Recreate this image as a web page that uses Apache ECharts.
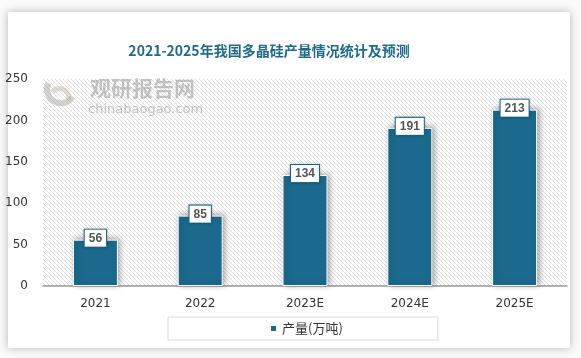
<!DOCTYPE html>
<html>
<head>
<meta charset="utf-8">
<script src="https://cdn.jsdelivr.net/npm/echarts@6/dist/echarts.min.js"></script>
<style>
html,body{margin:0;padding:0;background:#fff;}
#wrap{position:relative;width:581px;height:358px;overflow:hidden;background:#fafafa;}
#card{position:absolute;left:8px;top:12px;width:562px;height:336px;background:#fff;box-shadow:0 0 8px rgba(0,0,0,0.28);}
#chart{position:absolute;left:0;top:0;width:581px;height:358px;}
</style>
</head>
<body>
<div id="wrap"><div id="card"></div><div id="chart"></div></div>
<script>
var titleText = '2021-2025年我国多晶硅产量情况统计及预测';
var categories = ['2021', '2022', '2023E', '2024E', '2025E'];
var seriesName = '产量(万吨)';
var values = [56, 85, 134, 191, 213];

// hatch pattern
var pc = document.createElement('canvas');
pc.width = 4; pc.height = 4;
var pctx = pc.getContext('2d');
pctx.fillStyle = '#ffffff';
pctx.fillRect(0, 0, 4, 4);
pctx.fillStyle = '#dcdcdc';
for (var i = 0; i < 4; i++) { pctx.fillRect(i, i, 1, 1); }

var chart = echarts.init(document.getElementById('chart'), null, {renderer: 'canvas'});
var barColor = '#1b6a8e';
chart.setOption({
  backgroundColor: 'transparent',
  animation: false,
  title: {
    text: titleText,
    left: 264, top: 39, textAlign: 'center',
    textStyle: {color: '#1f6a8b', fontSize: 14, fontWeight: 'bold', fontFamily: 'Noto Sans CJK SC'}
  },
  grid: {
    left: 43, right: 14, top: 79, bottom: 72,
    show: true, borderWidth: 0,
    backgroundColor: {image: pc, repeat: 'repeat'}
  },
  graphic: [
    {type: 'text', left: 90, top: 78, z: 1, silent: true,
     style: {text: '观研报告网', fill: 'rgba(140,140,140,0.5)', font: 'bold 21px "Noto Sans CJK SC"'}},
    {type: 'text', left: 88, top: 103, z: 1, silent: true,
     style: {text: 'chinabaogao.com', fill: 'rgba(140,140,140,0.5)', font: '13px "DejaVu Sans"'}},
    {type: 'arc', left: 44, top: 80, z: 1, silent: true,
     shape: {cx: 0, cy: 0, r: 14, startAngle: 0.6, endAngle: 3.6},
     style: {fill: 'none', stroke: 'rgba(160,160,160,0.45)', lineWidth: 6}},
    {type: 'arc', left: 50, top: 86, z: 1, silent: true,
     shape: {cx: 0, cy: 0, r: 9, startAngle: 3.8, endAngle: 6.6},
     style: {fill: 'none', stroke: 'rgba(190,180,160,0.45)', lineWidth: 5}}
  ],
  legend: {
    data: [seriesName],
    left: 168, top: 317,
    padding: [5, 95, 5, 101],
    borderColor: '#d9d9d9', borderWidth: 1,
    itemWidth: 7, itemHeight: 7, itemGap: 5,
    icon: 'rect',
    textStyle: {color: '#333', fontSize: 13, fontFamily: 'Noto Sans CJK SC'}
  },
  xAxis: {
    type: 'category',
    data: categories,
    axisLine: {lineStyle: {color: '#999', width: 1.5}},
    axisTick: {show: false},
    axisLabel: {color: '#333', fontSize: 12, margin: 12, fontFamily: 'DejaVu Sans'}
  },
  yAxis: {
    type: 'value', min: 0, max: 250, interval: 50,
    axisLine: {show: false}, axisTick: {show: false},
    splitLine: {show: false},
    axisLabel: {color: '#333', fontSize: 12, margin: 15, fontFamily: 'DejaVu Sans'}
  },
  series: [{
    name: seriesName,
    type: 'bar',
    data: values,
    barWidth: 45,
    z: 3,
    itemStyle: {
      color: barColor, borderColor: '#fff', borderWidth: 1,
      shadowBlur: 6, shadowColor: 'rgba(0,0,0,0.35)', shadowOffsetX: 2, shadowOffsetY: -1
    },
    label: {
      show: true, position: 'top', distance: -7,
      backgroundColor: '#fff', borderColor: '#1b6a8e', borderWidth: 1,
      padding: [3, 4, 2, 4],
      color: '#555', fontSize: 12, fontWeight: 'bold', fontFamily: 'Liberation Sans',
      shadowBlur: 3, shadowColor: 'rgba(0,0,0,0.25)'
    }
  }]
});
</script>
</body>
</html>
